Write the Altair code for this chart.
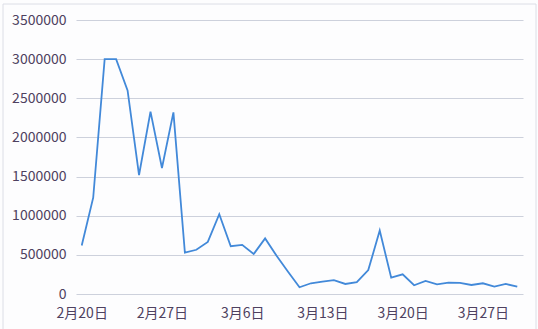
import altair as alt
import pandas as pd

dates = pd.date_range("2021-02-20", "2021-03-30", freq="D").strftime("%Y-%m-%d").tolist()
values = [620000, 1230000, 3000000, 3000000, 2600000, 1520000, 2330000, 1610000,
          2320000, 530000, 565000, 665000, 1020000, 610000, 628000, 510000,
          710000, 488000, 285000, 86000, 137000, 157000, 176000, 128000,
          152000, 305000, 810000, 208000, 252000, 112000, 166000, 124000,
          144000, 143000, 115000, 137000, 95000, 128000, 93000]
y_ticks = [0, 500000, 1000000, 1500000, 2000000, 2500000, 3000000, 3500000]
x_tick_days = [(2, 20), (2, 27), (3, 6), (3, 13), (3, 20), (3, 27)]

df = pd.DataFrame({"date": dates, "value": values})

label_color = "#4e4160"
font = "Noto Sans CJK SC"

border = alt.Chart(pd.DataFrame({"a": [0]})).mark_rect(
    fillOpacity=0, stroke="#dcdee6", strokeWidth=1
).encode(x=alt.value(-73), x2=alt.value(460), y=alt.value(-16), y2=alt.value(310))

line = alt.Chart(df).mark_line(color="#4289d9", strokeWidth=1.8).encode(
    x=alt.X(
        "date:T",
        scale=alt.Scale(
            type="utc",
            domain=[
                alt.DateTime(year=2021, month=2, date=19, hours=12, utc=True),
                alt.DateTime(year=2021, month=3, date=30, hours=12, utc=True),
            ],
        ),
        axis=alt.Axis(
            title=None,
            values=[alt.DateTime(year=2021, month=m, date=d, utc=True) for m, d in x_tick_days],
            format="%-m月%-d日",
            grid=False,
            domain=False,
            ticks=False,
            labelPadding=12,
            labelFont=font,
            labelFontSize=14,
            labelColor=label_color,
        ),
    ),
    y=alt.Y(
        "value:Q",
        scale=alt.Scale(domain=[0, 3500000], nice=False),
        axis=alt.Axis(
            title=None,
            values=y_ticks,
            format="d",
            grid=True,
            gridColor="#cdd1dc",
            gridWidth=1,
            domain=False,
            ticks=False,
            labelPadding=10,
            labelFont=font,
            labelFontSize=14,
            labelColor=label_color,
        ),
    ),
)

chart = alt.layer(line, border).properties(
    width=447,
    height=274,
    padding={"left": 76, "top": 20, "right": 15, "bottom": 35},
    autosize=alt.AutoSizeParams(type="none"),
    background="#fdfdfe",
).configure_view(stroke=None)

chart.save("out.html", embed_options={"renderer": "svg", "actions": False})
